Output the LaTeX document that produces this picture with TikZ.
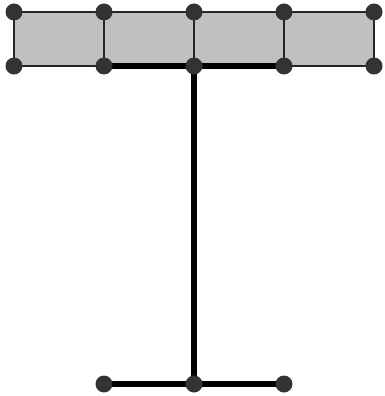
\documentclass[tikz,border=0pt]{standalone}
\definecolor{panel}{HTML}{C0C0C0}
\definecolor{dot}{HTML}{333333}
\tikzset{
  joint/.style={circle,fill=dot,inner sep=0pt,minimum size=17pt},
  thin/.style={draw=black!85,line width=1.4pt},
  heavy/.style={draw=black,line width=5.5pt},
}
\begin{document}
\begin{tikzpicture}[x=1pt,y=-1pt]
\useasboundingbox (0,0) rectangle (384,396);
\fill[panel] (14,12) rectangle (374,66);
% coordinates
\foreach \i/\x in {1/14,2/104,3/194,4/284,5/374}{
  \coordinate (t\i) at (\x,12);
  \coordinate (b\i) at (\x,66);
}
\coordinate (l1) at (104,384);
\coordinate (l2) at (194,384);
\coordinate (l3) at (284,384);
% thin frame
\draw[thin] (t1) -- (t5);
\draw[thin] (b1) -- (b5);
\foreach \i in {1,...,5}{ \draw[thin] (t\i) -- (b\i); }
% thick members
\draw[heavy] (b2) -- (b4);
\draw[heavy] (b3) -- (l2);
\draw[heavy] (l1) -- (l3);
% joints
\foreach \i in {1,...,5}{
  \node[joint] (nt\i) at (t\i) {};
  \node[joint] (nb\i) at (b\i) {};
}
\node[joint] (nl1) at (l1) {};
\node[joint] (nl2) at (l2) {};
\node[joint] (nl3) at (l3) {};
\end{tikzpicture}
\end{document}
